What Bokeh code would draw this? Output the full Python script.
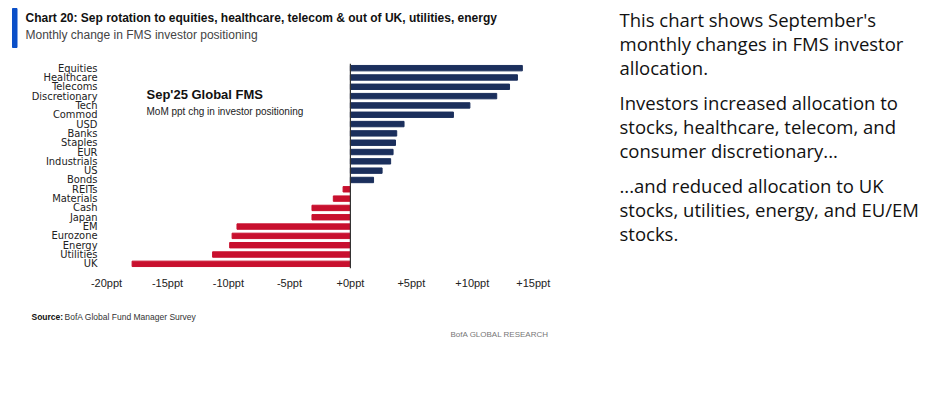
from bokeh.plotting import figure
from bokeh.layouts import row, column
from bokeh.models import ColumnDataSource, FactorRange, FixedTicker, Span, Label, Range1d
from bokeh.embed import file_html
from bokeh.resources import INLINE

categories = ["Equities", "Healthcare", "Telecoms", "Discretionary", "Tech", "Commod", "USD",
              "Banks", "Staples", "EUR", "Industrials", "US", "Bonds", "REITs", "Materials",
              "Cash", "Japan", "EM", "Eurozone", "Energy", "Utilities", "UK"]
values = [14.1, 13.7, 13.05, 12.0, 9.8, 8.45, 4.4, 3.8, 3.7, 3.5, 3.3, 2.6, 1.9,
          -0.6, -1.4, -3.15, -3.15, -9.3, -9.7, -9.9, -11.3, -17.9]
tick_values = [-20, -15, -10, -5, 0, 5, 10, 15]
tick_labels = ["-20ppt", "-15ppt", "-10ppt", "-5ppt", "+0ppt", "+5ppt", "+10ppt", "+15ppt"]

title_text = "Chart 20: Sep rotation to equities, healthcare, telecom & out of UK, utilities, energy"
subtitle_text = "Monthly change in FMS investor positioning"
note_title = "Sep'25 Global FMS"
note_sub = "MoM ppt chg in investor positioning"
right_lines = ["This chart shows September's", "monthly changes in FMS investor", "allocation.",
               "Investors increased allocation to", "stocks, healthcare, telecom, and", "consumer discretionary...",
               "...and reduced allocation to UK", "stocks, utilities, energy, and EU/EM", "stocks."]

NAVY = "#1b2f5c"
RED = "#c8102e"
colors = [NAVY if v >= 0 else RED for v in values]
source = ColumnDataSource(dict(cat=categories, val=values, color=colors))


def blank(w, h):
    f = figure(width=w, height=h, output_backend="svg", toolbar_location=None,
               x_range=Range1d(0, w), y_range=Range1d(h, 0),
               min_border=0, min_border_left=0, min_border_right=0,
               min_border_top=0, min_border_bottom=0, frame_align=False)
    f.axis.visible = False
    f.grid.grid_line_color = None
    f.outline_line_color = None
    return f


def txt(f, x, y, text, size, color="#111111", style="normal", font="Liberation Sans", baseline="alphabetic"):
    f.add_layout(Label(x=x, y=y, text=text, text_font=font, text_font_size=size, text_color=color,
                       text_font_style=style, text_baseline=baseline, text_align="left"))


# ---------------- header ----------------
header = blank(600, 52)
header.quad(left=[12], right=[16.5], top=[8], bottom=[47], color="#0b4fc8")
txt(header, 25, 17, title_text, "12px", "#111111", "bold")
txt(header, 25, 34, subtitle_text, "12px", "#444444", "normal")

# ---------------- chart ----------------
p = figure(width=600, height=248, output_backend="svg", toolbar_location=None,
           y_range=FactorRange(*reversed(categories), range_padding=0),
           x_range=(-20, 16), frame_align=False,
           min_border_left=106, min_border_right=55, min_border_top=11, min_border_bottom=32)
p.outline_line_color = None
p.grid.grid_line_color = None

p.hbar(y="cat", left=0, right="val", height=0.58, color="color", source=source)
p.add_layout(Span(location=0, dimension="height", line_color="#333333", line_width=1.2))

p.xaxis.ticker = FixedTicker(ticks=tick_values)
p.xaxis.major_label_overrides = {v: l for v, l in zip(tick_values, tick_labels)}
p.xaxis.axis_line_color = None
p.xaxis.major_tick_line_color = None
p.xaxis.minor_tick_line_color = None
p.xaxis.major_label_standoff = 2
p.xaxis.major_label_text_font = "Liberation Sans"
p.xaxis.major_label_text_font_size = "11px"
p.xaxis.major_label_text_color = "#222222"

p.yaxis.axis_line_color = None
p.yaxis.major_tick_line_color = None
p.yaxis.minor_tick_line_color = None
p.yaxis.major_label_standoff = 3
p.yaxis.major_label_text_font = "DejaVu Sans Condensed"
p.yaxis.major_label_text_font_size = "11px"
p.yaxis.major_label_text_color = "#222222"

p.add_layout(Label(x=40, y=174, x_units="screen", y_units="screen", text=note_title,
                   text_font="Liberation Sans", text_font_size="13px", text_font_style="bold",
                   text_color="#111111", text_baseline="alphabetic"))
p.add_layout(Label(x=40, y=157, x_units="screen", y_units="screen", text=note_sub,
                   text_font="Liberation Sans", text_font_size="10px",
                   text_color="#222222", text_baseline="alphabetic"))

# ---------------- footer ----------------
footer = blank(600, 45)
txt(footer, 31, 16, "Source:", "8.5px", "#111111", "bold")
txt(footer, 64, 16, "BofA Global Fund Manager Survey", "8.5px", "#333333", "normal")
txt(footer, 450, 34, "BofA GLOBAL RESEARCH", "8px", "#777777", "normal")

# ---------------- right commentary ----------------
side = blank(324, 345)
right_base = [19, 43, 67, 102, 126, 150, 185, 209, 233]
for t, yy in zip(right_lines, right_base):
    txt(side, 19, yy, t, "18.5px", "#111111", "normal", "Open Sans")

layout = row(column(header, p, footer), side)
open("out.html", "w").write(file_html(layout, INLINE))
